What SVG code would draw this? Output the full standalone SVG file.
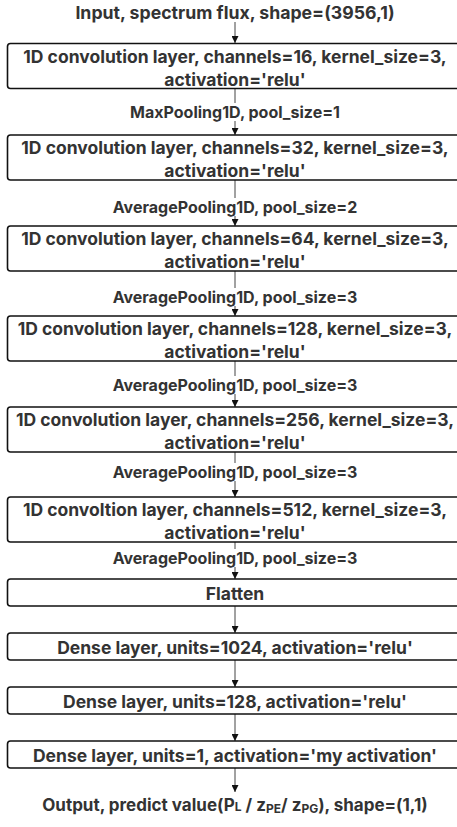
<svg xmlns="http://www.w3.org/2000/svg" width="457" height="827" viewBox="0 0 457 827">
  <defs>
    <marker id="arrow" viewBox="0 0 10 10" refX="10" refY="5" markerWidth="7" markerHeight="7" orient="auto" markerUnits="userSpaceOnUse">
      <path d="M0,0 L10,5 L0,10 Z" fill="#111"/>
    </marker>
  </defs>
  <style>
    .box { fill: #ffffff; stroke: #111; stroke-width: 1.6; }
    .t { font-family: Inter, "Liberation Sans", Arial, sans-serif; font-weight: 700; font-size: 17.5px; fill: #333; text-anchor: middle; dominant-baseline: central; }
    .lbl { font-size: 16px; }
    .in { font-size: 17.7px; }
    .out { font-size: 17px; }
    .edge { stroke: #444; stroke-width: 1; fill: none; marker-end: url(#arrow); }
    .bg { fill: #ffffff; }
    .sub { font-size: 12px; }
  </style>
  <rect width="457" height="827" fill="#ffffff"/>

  <!-- connectors -->
  <g id="edges">
    <line class="edge" x1="235" y1="22" x2="235" y2="43"/>
    <line class="edge" x1="235" y1="89" x2="235" y2="135"/>
    <line class="edge" x1="235" y1="180" x2="235" y2="226"/>
    <line class="edge" x1="235" y1="271" x2="235" y2="316"/>
    <line class="edge" x1="235" y1="361" x2="235" y2="407"/>
    <line class="edge" x1="235" y1="452" x2="235" y2="497"/>
    <line class="edge" x1="235" y1="542" x2="235" y2="579"/>
    <line class="edge" x1="235" y1="606" x2="235" y2="633"/>
    <line class="edge" x1="235" y1="660" x2="235" y2="687"/>
    <line class="edge" x1="235" y1="714" x2="235" y2="741"/>
    <line class="edge" x1="235" y1="768" x2="235" y2="792"/>
  </g>

  <!-- pooling labels on the connectors -->
  <g id="pool-labels">
    <g id="pool1"><rect class="bg" x="115" y="103" width="240" height="18"/><text class="t lbl" x="235" y="112">MaxPooling1D, pool_size=1</text></g>
    <g id="pool2"><rect class="bg" x="105" y="198" width="260" height="18"/><text class="t lbl" x="235" y="207">AveragePooling1D, pool_size=2</text></g>
    <g id="pool3"><rect class="bg" x="105" y="288" width="260" height="18"/><text class="t lbl" x="235" y="297">AveragePooling1D, pool_size=3</text></g>
    <g id="pool4"><rect class="bg" x="105" y="376" width="260" height="18"/><text class="t lbl" x="235" y="385">AveragePooling1D, pool_size=3</text></g>
    <g id="pool5"><rect class="bg" x="105" y="463" width="260" height="18"/><text class="t lbl" x="235" y="472">AveragePooling1D, pool_size=3</text></g>
    <g id="pool6"><rect class="bg" x="105" y="549" width="260" height="18"/><text class="t lbl" x="235" y="558">AveragePooling1D, pool_size=3</text></g>
  </g>

  <g id="input"><text class="t in" x="235" y="12">Input, spectrum flux, shape=(3956,1)</text></g>

  <g id="conv1">
    <rect class="box" x="7.5" y="43.5" width="455" height="45" rx="3"/>
    <text class="t" x="235" y="56">1D convolution layer, channels=16, kernel_size=3,</text>
    <text class="t" x="235" y="79">activation='relu'</text>
  </g>
  <g id="conv2">
    <rect class="box" x="7.5" y="135" width="455" height="45" rx="3"/>
    <text class="t" x="235" y="147">1D convolution layer, channels=32, kernel_size=3,</text>
    <text class="t" x="235" y="170">activation='relu'</text>
  </g>
  <g id="conv3">
    <rect class="box" x="7.5" y="226" width="455" height="45" rx="3"/>
    <text class="t" x="235" y="238">1D convolution layer, channels=64, kernel_size=3,</text>
    <text class="t" x="235" y="261">activation='relu'</text>
  </g>
  <g id="conv4">
    <rect class="box" x="7.5" y="316" width="455" height="45" rx="3"/>
    <text class="t" x="235" y="328">1D convolution layer, channels=128, kernel_size=3,</text>
    <text class="t" x="235" y="351">activation='relu'</text>
  </g>
  <g id="conv5">
    <rect class="box" x="7.5" y="407" width="455" height="45" rx="3"/>
    <text class="t" x="235" y="419">1D convolution layer, channels=256, kernel_size=3,</text>
    <text class="t" x="235" y="442">activation='relu'</text>
  </g>
  <g id="conv6">
    <rect class="box" x="7.5" y="497" width="455" height="45" rx="3"/>
    <text class="t" x="235" y="509">1D convoltion layer, channels=512, kernel_size=3,</text>
    <text class="t" x="235" y="532">activation='relu'</text>
  </g>
  <g id="flatten">
    <rect class="box" x="7.5" y="579" width="455" height="27" rx="3"/>
    <text class="t" x="235" y="593">Flatten</text>
  </g>
  <g id="dense1">
    <rect class="box" x="7.5" y="633" width="455" height="27" rx="3"/>
    <text class="t" x="235" y="647">Dense layer, units=1024, activation='relu'</text>
  </g>
  <g id="dense2">
    <rect class="box" x="7.5" y="687" width="455" height="27" rx="3"/>
    <text class="t" x="235" y="701">Dense layer, units=128, activation='relu'</text>
  </g>
  <g id="dense3">
    <rect class="box" x="7.5" y="741" width="455" height="27" rx="3"/>
    <text class="t" x="235" y="755">Dense layer, units=1, activation='my activation'</text>
  </g>
  <g id="output">
    <text class="t out" x="235" y="805">Output, predict value(P<tspan class="sub" dy="1">L</tspan><tspan dy="-1"> / z</tspan><tspan class="sub" dy="3">PE</tspan><tspan dy="-3">/ z</tspan><tspan class="sub" dy="3">PG</tspan><tspan dy="-3">), shape=(1,1)</tspan></text>
  </g>
</svg>
